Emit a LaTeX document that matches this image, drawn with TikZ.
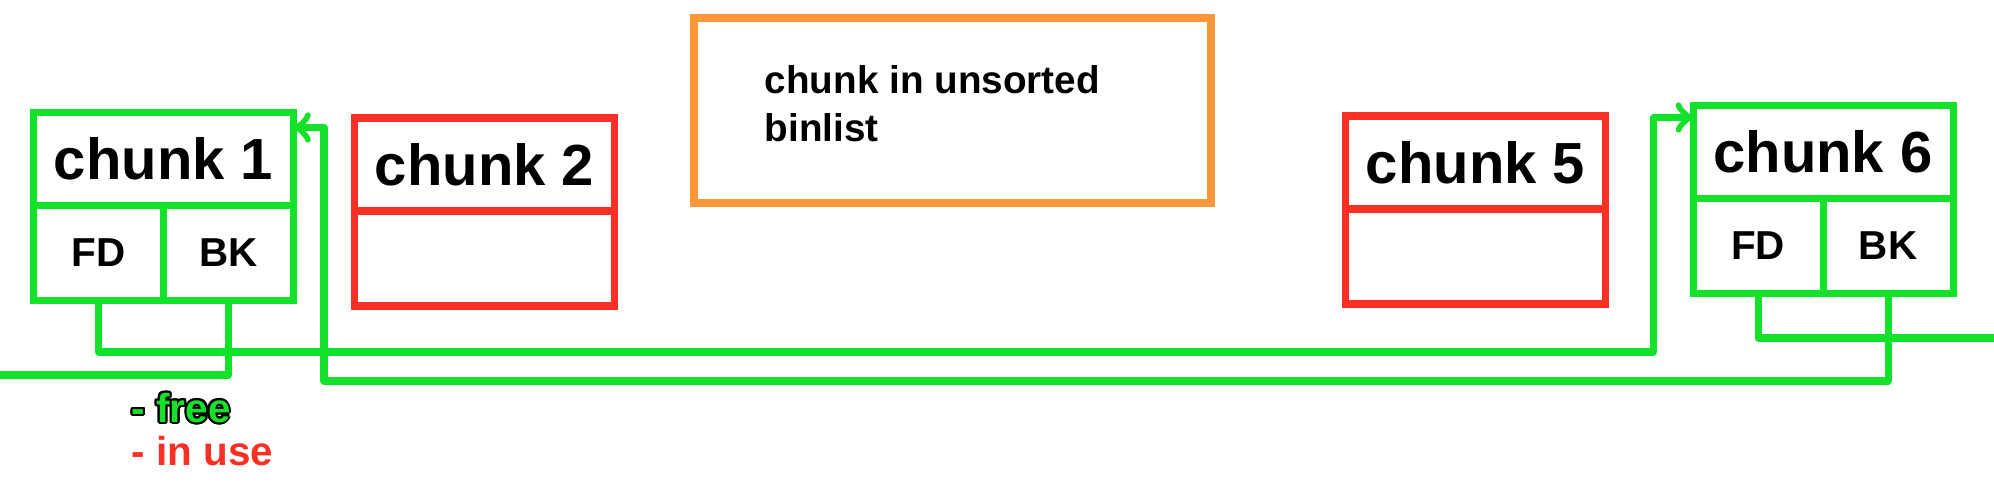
\documentclass[tikz,border=0pt]{standalone}
\usepackage{fontspec}
\setmainfont{Liberation Sans}
\usepackage{contour}
\usetikzlibrary{positioning}
\definecolor{freegreen}{RGB}{20,226,42}
\definecolor{usedred}{RGB}{250,48,36}
\definecolor{binorange}{RGB}{255,150,56}
\contourlength{0.6pt}
\tikzset{
  cell/.style={draw, line width=2pt, outer sep=0pt, inner sep=0pt, minimum width=26mm, minimum height=9.3mm, font=\fontsize{16.5}{19}\selectfont\bfseries},
  freecell/.style={cell, draw=freegreen},
  usedcell/.style={cell, draw=usedred},
  field/.style={minimum width=13mm, minimum height=9.5mm, font=\fontsize{11.5}{13}\selectfont\bfseries},
  link/.style={freegreen, line width=2pt, line join=round},
  key/.style={anchor=west, inner sep=0pt, font=\fontsize{11.5}{13}\selectfont\bfseries},
}
\begin{document}
\begin{tikzpicture}
    \useasboundingbox (0,0) rectangle (19.94,4.90);
    % unsorted bin box
    \node[draw=binorange, line width=2pt, minimum width=51.7mm, minimum height=18.5mm] (bin) at (9.525,3.795) {};
    \node[anchor=west, align=left, inner sep=0pt, font=\fontsize{11}{13.5}\selectfont\bfseries] (bintext) at (7.64,3.865) {chunk in unsorted\\binlist};
    % chunks
    \node[freecell] (c1) at (1.635,3.31) {chunk 1};
    \node[freecell, field, below right=0pt and 0pt of c1.south west] (fd1) {FD};
    \node[freecell, field, below left=0pt and 0pt of c1.south east] (bk1) {BK};
    \node[usedcell] (c2) at (4.845,3.255) {chunk 2};
    \node[usedcell, minimum height=9.5mm, below=0pt of c2] (body2) {};
    \node[usedcell] (c5) at (14.755,3.275) {chunk 5};
    \node[usedcell, minimum height=9.5mm, below=0pt of c5] (body5) {};
    \node[freecell] (c6) at (18.23,3.38) {chunk 6};
    \node[freecell, field, below right=0pt and 0pt of c6.south west] (fd6) {FD};
    \node[freecell, field, below left=0pt and 0pt of c6.south east] (bk6) {BK};
    % bend points and free ends
    \coordinate (fdbend) at (16.53,1.38);
    \coordinate (bkbend) at (3.24,1.09);
    \coordinate (westend) at (0,1.15);
    \coordinate (eastend) at (19.94,1.52);
    % fd / bk links
    \draw[link, ->] (fd1.south) |- (fdbend) |- ([yshift=-1.2mm]c6.north west);
    \draw[link, ->] (bk6.south) |- (bkbend) |- ([yshift=-1.5mm]c1.north east);
    \draw[link] (bk1.south) |- (westend);
    \draw[link] (fd6.south) |- (eastend);
    % legend
    \node[key, text=freegreen] (freekey) at (1.31,0.81) {\contour{black}{- free}};
    \node[key, text=usedred] (usedkey) at (1.31,0.39) {- in use};
\end{tikzpicture}
\end{document}
